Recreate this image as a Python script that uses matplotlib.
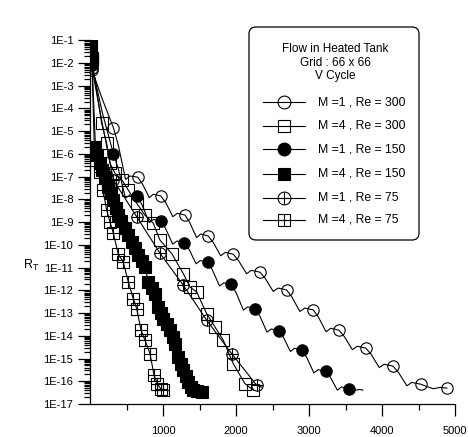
import numpy as np
import matplotlib
matplotlib.use("Agg")
import matplotlib.pyplot as plt
from matplotlib.lines import Line2D
from matplotlib.patches import FancyBboxPatch
from matplotlib.ticker import FixedLocator, FuncFormatter, LogLocator, NullFormatter

plt.rcParams["font.family"] = ["Liberation Sans", "DejaVu Sans"]
plt.rcParams["mathtext.default"] = "regular"

# ---- convergence histories: iteration number vs log10 of residual R_T ----
# M = 1, Re = 300 (markers and the full wavy history)
m1_re300_it = [27, 321, 652, 970, 1300, 1618, 1960, 2325, 2690, 3055, 3406, 3775, 4145, 4528, 4884]
m1_re300_lg = [-2.3, -4.85, -7.02, -7.85, -8.69, -9.61, -10.41, -11.2, -11.98, -12.86, -13.75, -14.54, -15.33, -16.13, -16.3]
m1_re300_hist_it = [27, 170, 321,
                    387, 487, 546, 652,
                    716, 811, 868, 970,
                    1036, 1135, 1194, 1300,
                    1364, 1459, 1516, 1618,
                    1686, 1789, 1851, 1960,
                    2033, 2143, 2208, 2325,
                    2398, 2508, 2573, 2690,
                    2763, 2873, 2938, 3055,
                    3125, 3231, 3294, 3406,
                    3480, 3591, 3657, 3775,
                    3849, 3960, 4027, 4145,
                    4222, 4337, 4405, 4528,
                    4600, 4700, 4790, 4884]
m1_re300_hist_lg = [-2.3, -3.6, -4.85,
                    -5.61, -7.12, -6.97, -7.02,
                    -7.31, -7.92, -7.77, -7.85,
                    -8.14, -8.76, -8.61, -8.69,
                    -9.01, -9.68, -9.52, -9.61,
                    -9.89, -10.48, -10.33, -10.41,
                    -10.69, -11.27, -11.12, -11.2,
                    -11.47, -12.05, -11.9, -11.98,
                    -12.29, -12.93, -12.78, -12.86,
                    -13.17, -13.82, -13.67, -13.75,
                    -14.03, -14.61, -14.46, -14.54,
                    -14.82, -15.4, -15.25, -15.33,
                    -15.61, -16.2, -16.05, -16.13,
                    -16.22, -16.33, -16.27, -16.3]

# M = 4, Re = 300
m4_re300_it = [27, 160, 228, 274, 342, 438, 524, 639, 752, 866, 958, 1118, 1276, 1368, 1460,
               1596, 1710, 1824, 1960, 2120, 2234]
m4_re300_lg = [-1.87, -4.65, -5.53, -6.41, -6.85, -7.15, -7.59, -8.17, -8.69, -9.05, -9.79, -10.38,
               -11.26, -11.85, -12.07, -13.02, -13.61, -14.19, -15.22, -16.10, -16.39]

# M = 1, Re = 150
m1_re150_it = [27, 321, 650, 971, 1293, 1610, 1936, 2261, 2585, 2900, 3228, 3543]
m1_re150_lg = [-2.1, -6.0, -7.87, -8.95, -9.90, -10.76, -11.74, -12.80, -13.77, -14.62, -15.56, -16.32]
m1_re150_hist_it = [27, 170, 321,
                    387, 486, 545, 650,
                    714, 811, 868, 971,
                    1035, 1132, 1190, 1293,
                    1356, 1452, 1509, 1610,
                    1675, 1773, 1832, 1936,
                    2001, 2099, 2157, 2261,
                    2326, 2423, 2481, 2585,
                    2648, 2743, 2799, 2900,
                    2966, 3064, 3123, 3228,
                    3291, 3386, 3442, 3543,
                    3620, 3690, 3735]
m1_re150_hist_lg = [-2.1, -4.2, -6.0,
                    -6.65, -7.94, -7.8, -7.87,
                    -8.25, -9.02, -8.88, -8.95,
                    -9.28, -9.97, -9.83, -9.90,
                    -10.2, -10.83, -10.69, -10.76,
                    -11.1, -11.81, -11.67, -11.74,
                    -12.11, -12.87, -12.73, -12.80,
                    -13.14, -13.84, -13.7, -13.77,
                    -14.07, -14.69, -14.55, -14.62,
                    -14.95, -15.63, -15.49, -15.56,
                    -15.83, -16.39, -16.25, -16.32,
                    -16.40, -16.36, -16.39]

# M = 4, Re = 150
m4_re150_it = [8, 25, 59, 100, 137, 170, 205, 250, 285, 319, 355, 387, 430, 479, 525, 570, 615, 661,
               705, 752, 798, 845, 889, 934, 970, 1003, 1050, 1094, 1130, 1163, 1208, 1240, 1276,
               1310, 1345, 1380, 1413, 1470, 1528]
m4_re150_lg = [-1.2, -1.8, -5.68, -6.05, -6.40, -6.72, -7.00, -7.44, -7.72, -8.03, -8.38, -8.69,
               -8.97, -9.26, -9.56, -9.86, -10.15, -10.45, -10.70, -10.96, -11.63, -11.88, -12.14,
               -12.73, -12.98, -13.24, -13.50, -13.75, -14.05, -14.34, -14.93, -15.22, -15.51,
               -15.78, -16.03, -16.25, -16.39, -16.45, -16.47]

# M = 1, Re = 75
m1_re75_it = [27, 321, 639, 958, 1276, 1596, 1938, 2280]
m1_re75_lg = [-2.22, -7.15, -8.76, -10.37, -11.77, -13.31, -14.78, -16.17]
m1_re75_hist_it = [27, 170, 321, 639, 958, 1276, 1596, 1938, 2280, 2353]
m1_re75_hist_lg = [-2.22, -4.7, -7.15, -8.76, -10.37, -11.77, -13.31, -14.78, -16.17, -16.26]

# M = 4, Re = 75
m4_re75_it = [27, 82, 137, 178, 228, 274, 319, 387, 456, 524, 592, 639, 698, 752, 821, 876, 923, 971, 1005]
m4_re75_lg = [-1.87, -6.27, -6.80, -7.59, -8.47, -9.0, -9.48, -10.41, -10.76, -11.63, -12.36, -12.80,
              -13.75, -14.19, -14.78, -15.73, -16.10, -16.35, -16.38]

series_labels = ["M =1 , Re = 300", "M =4 , Re = 300", "M =1 , Re = 150",
                 "M =4 , Re = 150", "M =1 , Re = 75", "M =4 , Re = 75"]
title_lines = ["Flow in Heated Tank", "Grid : 66 x 66", "V Cycle"]
x_ticks = [1000, 2000, 3000, 4000, 5000]
x_minor = [500, 1500, 2500, 3500, 4500]
y_exponents = list(range(-1, -18, -1))

W, H = 468, 437
fig = plt.figure(figsize=(W / 100, H / 100), dpi=100)
ax = fig.add_axes([90 / W, 33 / H, 365.3 / W, 363.7 / H])
ax.set_yscale("log")

LW = 0.8
MS = 8.2
MEW = 0.8


def pw(v):
    return 10.0 ** np.asarray(v, dtype=float)


# lines
ax.plot(m1_re300_hist_it, pw(m1_re300_hist_lg), "-", color="k", lw=LW)
ax.plot(m4_re300_it, pw(m4_re300_lg), "-", color="k", lw=LW)
ax.plot(m1_re150_hist_it, pw(m1_re150_hist_lg), "-", color="k", lw=LW)
ax.plot(m4_re150_it, pw(m4_re150_lg), "-", color="k", lw=LW)
ax.plot(m1_re75_hist_it, pw(m1_re75_hist_lg), "-", color="k", lw=LW)
ax.plot(m4_re75_it, pw(m4_re75_lg), "-", color="k", lw=LW)

# markers
ax.plot(m1_re300_it, pw(m1_re300_lg), "o", ls="none", ms=MS, mfc="none", mec="k", mew=MEW)
ax.plot(m4_re300_it, pw(m4_re300_lg), "s", ls="none", ms=MS, mfc="none", mec="k", mew=MEW)
ax.plot(m1_re150_it, pw(m1_re150_lg), "o", ls="none", ms=MS, mfc="k", mec="k", mew=MEW)
ax.plot(m4_re150_it, pw(m4_re150_lg), "s", ls="none", ms=MS, mfc="k", mec="k", mew=MEW)
ax.plot(m1_re75_it, pw(m1_re75_lg), "o", ls="none", ms=MS, mfc="none", mec="k", mew=MEW)
ax.plot(m1_re75_it, pw(m1_re75_lg), "+", ls="none", ms=MS, mec="k", mew=MEW)
ax.plot(m4_re75_it, pw(m4_re75_lg), "s", ls="none", ms=MS, mfc="none", mec="k", mew=MEW)
ax.plot(m4_re75_it, pw(m4_re75_lg), "+", ls="none", ms=MS, mec="k", mew=MEW)

# axes styling
ax.set_xlim(0, 5000)
ax.set_ylim(1e-17, 1e-1)
for side in ("top", "right"):
    ax.spines[side].set_visible(False)
for side in ("left", "bottom"):
    ax.spines[side].set_linewidth(0.9)

ax.xaxis.set_major_locator(FixedLocator(x_ticks))
ax.xaxis.set_minor_locator(FixedLocator(x_minor))
ax.xaxis.set_major_formatter(FuncFormatter(lambda v, p: f"{int(v)}"))
ax.yaxis.set_major_locator(FixedLocator([10.0 ** e for e in y_exponents]))
ax.yaxis.set_major_formatter(FuncFormatter(lambda v, p: f"1E{int(round(np.log10(v)))}"))
ax.yaxis.set_minor_locator(LogLocator(base=10, subs=np.arange(2, 10), numticks=40))
ax.yaxis.set_minor_formatter(NullFormatter())

ax.tick_params(axis="both", which="major", direction="out", length=8.5, width=0.9,
               labelsize=8, color="k")
ax.tick_params(axis="both", which="minor", direction="out", length=4.5, width=0.9, color="k")
ax.tick_params(axis="y", which="major", pad=3.5)
ax.tick_params(axis="x", which="major", pad=7.5)

fig.text(31 / W, 1 - 265 / H, r"$R_T$", fontsize=9, ha="center", va="center")

# legend box drawn in figure inches
def inch(px, py):
    return px / 100.0, (H - py) / 100.0


box_x, box_y = inch(249, 240)
box = FancyBboxPatch((box_x, box_y), 170 / 100, 213 / 100,
                     boxstyle="round,pad=0,rounding_size=0.07",
                     transform=fig.dpi_scale_trans, fc="white", ec="k", lw=0.9, zorder=5)
fig.add_artist(box)

for line, py in zip(title_lines, [48.5, 62.5, 75.5]):
    tx, ty = inch(335, py)
    fig.text(tx, ty, line, transform=fig.dpi_scale_trans, fontsize=8.5,
             ha="center", va="center", zorder=6)

entry_y = [102.3, 126, 149.3, 174, 197.7, 220]
entry_styles = [
    [dict(marker="o", mfc="none")],
    [dict(marker="s", mfc="none")],
    [dict(marker="o", mfc="k")],
    [dict(marker="s", mfc="k")],
    [dict(marker="o", mfc="none"), dict(marker="+")],
    [dict(marker="s", mfc="none"), dict(marker="+")],
]
for label, py, styles in zip(series_labels, entry_y, entry_styles):
    x0, yy = inch(262.7, py)
    x1, _ = inch(305, py)
    xm, _ = inch(284, py)
    fig.add_artist(Line2D([x0, x1], [yy, yy], transform=fig.dpi_scale_trans,
                          color="k", lw=LW, zorder=6))
    for st in styles:
        fig.add_artist(Line2D([xm], [yy], transform=fig.dpi_scale_trans, ls="none",
                              ms=9.2, mec="k", mew=MEW, zorder=7, **st))
    lx, _ = inch(317.5, py)
    fig.text(lx, yy, label, transform=fig.dpi_scale_trans, fontsize=8.8,
             ha="left", va="center", zorder=7)

fig.savefig("out.png", dpi=100)
